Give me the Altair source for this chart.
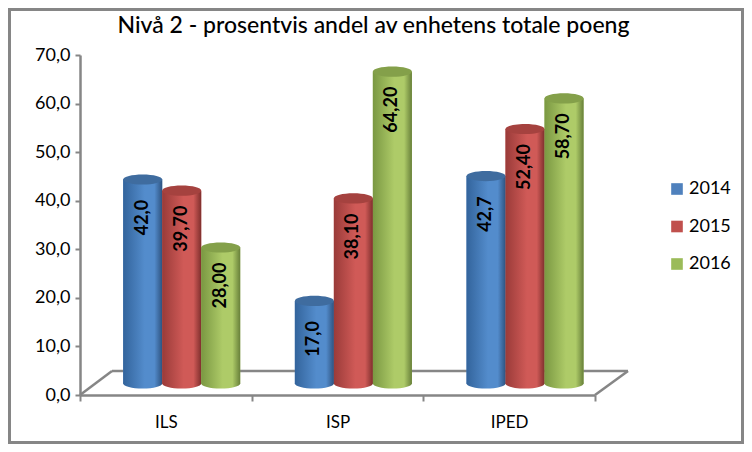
import altair as alt
import pandas as pd

categories = ["ILS", "ISP", "IPED"]
years = ["2014", "2015", "2016"]
values_2014 = [42.0, 17.0, 42.7]
values_2015 = [39.7, 38.1, 52.4]
values_2016 = [28.0, 64.2, 58.7]
labels_2014 = ["42,0", "17,0", "42,7"]
labels_2015 = ["39,70", "38,10", "52,40"]
labels_2016 = ["28,00", "64,20", "58,70"]
flat = ["#4F81BD", "#C0504D", "#9BBB59"]
cap = ["#3F6C9F", "#A5423F", "#84A04A"]
edges = [("#33649C", "#538CCC", "#2E5380"), ("#9A3B39", "#D05A57", "#7F2F2D"), ("#7A9842", "#AECB68", "#68803A")]

rows = []
for y, vals, labs in zip(years, [values_2014, values_2015, values_2016], [labels_2014, labels_2015, labels_2016]):
    for c, v, l in zip(categories, vals, labs):
        rows.append({"cat": c, "year": y, "value": v, "label": l})
df = pd.DataFrame(rows)

DY = -11.5
ELLIPSE = "M-1,0 A1,0.26 0 1 0 1,0 A1,0.26 0 1 0 -1,0 Z"
GREY = "#868686"

x = alt.X("cat:N", sort=categories, title=None,
          scale=alt.Scale(domain=categories, paddingInner=0, paddingOuter=0),
          axis=alt.Axis(labelAngle=0, labelFont="Lato", labelFontSize=17, labelColor="#000000",
                        labelPadding=13, domainColor=GREY, domainWidth=2.5, tickColor=GREY,
                        tickWidth=2, tickSize=6, tickBand="extent", grid=False))
xo = alt.XOffset("year:N", sort=years,
                 scale=alt.Scale(domain=years, paddingInner=0, paddingOuter=0, range=[43.2, 160.2]))
y = alt.Y("value:Q", title=None,
          scale=alt.Scale(domain=[0, 70], nice=False),
          axis=alt.Axis(values=[0, 10, 20, 30, 40, 50, 60, 70], grid=False,
                        labelExpr="replace(format(datum.value,'.1f'),'.',',')",
                        labelFont="Lato", labelFontSize=18, labelColor="#000000", labelPadding=5,
                        domainColor=GREY, domainWidth=2.5, tickColor=GREY, tickWidth=2, tickSize=5))

base = alt.Chart(df).encode(x=x, xOffset=xo, y=y)

flat_layer = base.mark_bar(yOffset=DY, y2Offset=DY).encode(
    color=alt.Color("year:N", sort=years, scale=alt.Scale(domain=years, range=flat),
                    legend=alt.Legend(title=None, orient="none", legendX=588, legendY=125,
                                      symbolType="square", symbolSize=135, symbolStrokeWidth=0,
                                      labelFont="Lato", labelFontSize=18, labelColor="#000000",
                                      rowPadding=19.5, labelOffset=3, padding=0)))

layers = [flat_layer]
for yr, (a, b, c), top in zip(years, edges, cap):
    grad = alt.Gradient(gradient="linear", x1=0, x2=1, y1=0, y2=0,
                        stops=[alt.GradientStop(offset=0, color=a),
                               alt.GradientStop(offset=0.55, color=b),
                               alt.GradientStop(offset=0.8, color=b),
                               alt.GradientStop(offset=1, color=c)])
    one = base.transform_filter(alt.datum.year == yr)
    layers.append(one.transform_calculate(zero="0").mark_point(
        shape=ELLIPSE, filled=True, fill=grad, size=1521, opacity=1, strokeWidth=0, yOffset=DY
    ).encode(y=alt.Y("zero:Q", scale=alt.Scale(domain=[0, 70], nice=False), title=None)))
    layers.append(one.mark_bar(fill=grad, yOffset=DY, y2Offset=DY))
    layers.append(one.mark_point(shape=ELLIPSE, filled=True, fill=top, size=1521, opacity=1,
                                 strokeWidth=0, yOffset=DY))

text_layer = base.mark_text(angle=270, font="Lato", fontWeight="bold", fontSize=18, color="#000000",
                            align="center", baseline="middle", yOffset=DY + 38).encode(
    text="label:N")
layers.append(text_layer)

def rule(x1, y1, x2, y2):
    return alt.Chart(pd.DataFrame({"a": [0]})).mark_rule(color=GREY, strokeWidth=2.5).encode(
        x=alt.value(x1), y=alt.value(y1), x2=alt.value(x2), y2=alt.value(y2))

floor = [rule(0, 340, 32, 316), rule(32, 316, 548, 316), rule(548, 316, 515, 340)]
frame = alt.Chart(pd.DataFrame({"a": [0]})).mark_rect(filled=False, stroke=GREY, strokeWidth=3).encode(
    x=alt.value(-70.5), x2=alt.value(662.5), y=alt.value(-45.5), y2=alt.value(387.5))

chart = alt.layer(frame, *floor, *layers).resolve_scale(color="independent").properties(
    width=515, height=340,
    padding={"left": 72, "top": 47, "right": 149, "bottom": 49},
    autosize=alt.AutoSizeParams(type="none"),
    title=alt.TitleParams("Nivå 2 - prosentvis andel av enhetens totale poeng", font="Lato",
                          fontSize=23, fontWeight=500, color="#000000", anchor="middle",
                          dx=36, dy=44, offset=14),
).configure_view(stroke=None)

chart.save("out.html", embed_options={"renderer": "svg", "actions": False})
